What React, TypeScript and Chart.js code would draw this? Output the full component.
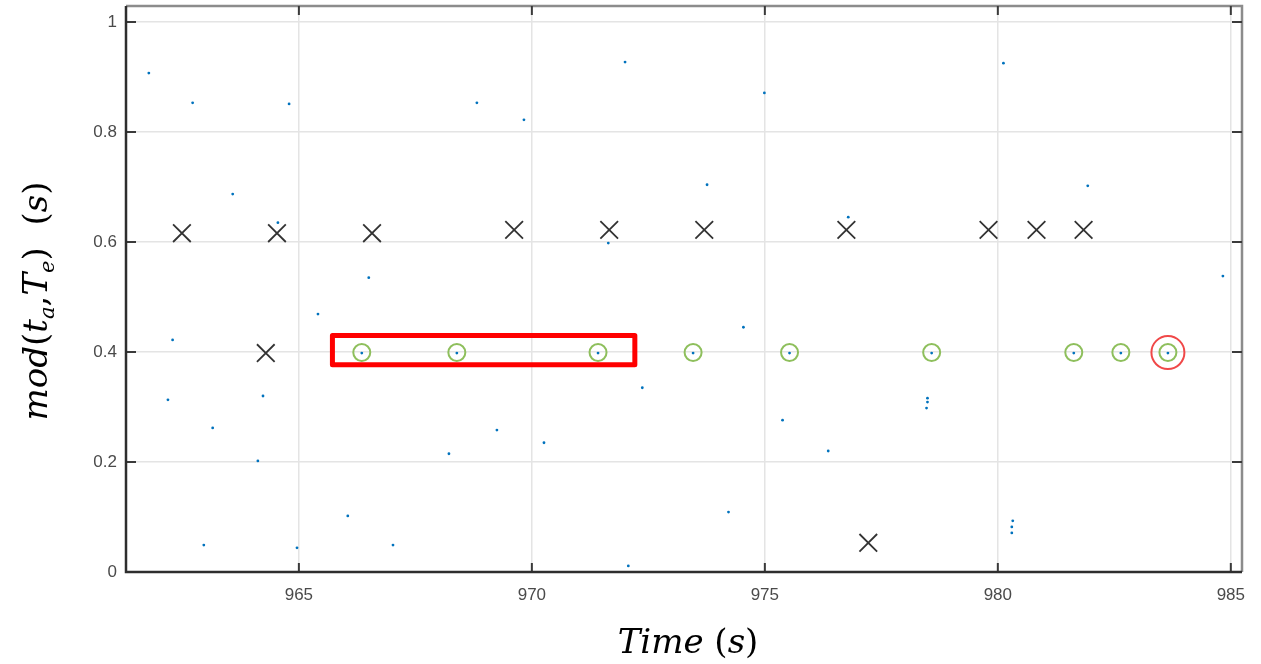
import { useEffect, useRef } from 'react';
import { Chart, registerables } from 'chart.js';

Chart.register(...registerables);

// ---- axis ranges & ticks ----
const X_MIN = 961.29;
const X_MAX = 985.24;
const Y_MIN = 0;
const Y_MAX = 1.029;
const xTicks = [965, 970, 975, 980, 985];
const yTicks = [0, 0.2, 0.4, 0.6, 0.8, 1];
const yTickLabels = ['0', '0.2', '0.4', '0.6', '0.8', '1'];

// ---- blue samples ----
const blueX = [
  961.78, 962.72, 964.79, 963.58, 964.55, 966.5, 965.41, 962.29, 962.19, 964.23,
  963.15, 964.12, 962.96, 964.96, 966.05, 967.02, 968.82, 969.83, 972.0, 971.64,
  969.25, 970.26, 968.22, 972.07, 972.37, 973.76, 974.99, 974.54, 975.38, 974.22,
  976.36, 976.79, 978.49, 978.49, 978.47, 980.12, 981.93, 980.32, 980.3, 980.3,
  984.83,
  966.35, 968.39, 971.42, 973.46, 975.53, 978.58, 981.63, 982.64, 983.65,
];
const blueY = [
  0.907, 0.853, 0.851, 0.687, 0.635, 0.535, 0.469, 0.422, 0.313, 0.32,
  0.262, 0.202, 0.049, 0.044, 0.102, 0.049, 0.853, 0.822, 0.927, 0.598,
  0.258, 0.235, 0.215, 0.011, 0.335, 0.704, 0.871, 0.445, 0.276, 0.109,
  0.22, 0.645, 0.316, 0.309, 0.298, 0.925, 0.702, 0.093, 0.082, 0.071,
  0.538,
  0.398, 0.398, 0.398, 0.398, 0.398, 0.398, 0.398, 0.398, 0.398,
];

// ---- green circled samples ----
const greenX = [966.35, 968.39, 971.42, 973.46, 975.53, 978.58, 981.63, 982.64, 983.65];
const greenY = [0.399, 0.399, 0.399, 0.399, 0.399, 0.399, 0.399, 0.399, 0.399];

// ---- red circled sample ----
const redX = [983.65];
const redY = [0.399];

// ---- black crosses ----
const crossX = [962.49, 964.53, 966.57, 969.62, 971.66, 973.7, 976.75, 979.8, 980.83, 981.84, 964.29, 977.22];
const crossY = [0.616, 0.616, 0.616, 0.622, 0.622, 0.622, 0.622, 0.622, 0.622, 0.622, 0.398, 0.053];

// ---- red highlight rectangle (data units) ----
const rectX = [965.72, 972.21];
const rectY = [0.377, 0.43];

type Seg = { t: string; it: boolean; sub?: boolean };
const yTitle: Seg[] = [
  { t: 'mod', it: true },
  { t: '(', it: false },
  { t: 't', it: true },
  { t: 'a', it: true, sub: true },
  { t: ',', it: false },
  { t: 'T', it: true },
  { t: 'e', it: true, sub: true },
  { t: ')', it: false },
  { t: '  ', it: false },
  { t: '(', it: false },
  { t: 's', it: true },
  { t: ')', it: false },
];
const xTitle: Seg[] = [
  { t: 'Time', it: true },
  { t: ' ', it: false },
  { t: '(', it: false },
  { t: 's', it: true },
  { t: ')', it: false },
];

const toPts = (xs: number[], ys: number[]) => xs.map((x, i) => ({ x, y: ys[i] }));

function drawRich(ctx: CanvasRenderingContext2D, segs: Seg[], size: number, cx: number, by: number) {
  const fontFor = (s: Seg) => `${s.it ? 'italic ' : ''}${s.sub ? size * 0.62 : size}px "DejaVu Serif"`;
  let total = 0;
  const widths = segs.map((s) => {
    ctx.font = fontFor(s);
    const w = ctx.measureText(s.t).width;
    total += w;
    return w;
  });
  let x = cx - total / 2;
  ctx.textBaseline = 'alphabetic';
  ctx.textAlign = 'left';
  segs.forEach((s, i) => {
    ctx.font = fontFor(s);
    ctx.fillText(s.t, x, by + (s.sub ? size * 0.2 : 0));
    x += widths[i];
  });
}

const framePlugin = {
  id: 'frame',
  beforeDatasetsDraw(chart: any) {
    const { ctx, chartArea: a, scales } = chart;
    ctx.save();
    // top & right (light box)
    ctx.strokeStyle = '#8c8c8c';
    ctx.lineWidth = 2.5;
    ctx.beginPath();
    ctx.moveTo(a.left, a.top);
    ctx.lineTo(a.right, a.top);
    ctx.lineTo(a.right, a.bottom);
    ctx.stroke();
    // inward ticks
    ctx.strokeStyle = '#3a3a3a';
    ctx.lineWidth = 2;
    ctx.beginPath();
    xTicks.forEach((v) => {
      const px = scales.x.getPixelForValue(v);
      ctx.moveTo(px, a.bottom);
      ctx.lineTo(px, a.bottom - 9);
      ctx.moveTo(px, a.top);
      ctx.lineTo(px, a.top + 9);
    });
    yTicks.forEach((v) => {
      const py = scales.y.getPixelForValue(v);
      ctx.moveTo(a.left, py);
      ctx.lineTo(a.left + 10, py);
      ctx.moveTo(a.right, py);
      ctx.lineTo(a.right - 10, py);
    });
    ctx.stroke();
    // left & bottom axes
    ctx.strokeStyle = '#2e2e2e';
    ctx.lineWidth = 2.5;
    ctx.beginPath();
    ctx.moveTo(a.left, a.top);
    ctx.lineTo(a.left, a.bottom);
    ctx.lineTo(a.right, a.bottom);
    ctx.stroke();
    ctx.restore();
  },
  afterDatasetsDraw(chart: any) {
    const { ctx, scales } = chart;
    const x0 = scales.x.getPixelForValue(rectX[0]);
    const x1 = scales.x.getPixelForValue(rectX[1]);
    const y0 = scales.y.getPixelForValue(rectY[1]);
    const y1 = scales.y.getPixelForValue(rectY[0]);
    ctx.save();
    ctx.strokeStyle = '#ff0000';
    ctx.lineWidth = 5;
    ctx.lineJoin = 'round';
    ctx.strokeRect(x0, y0, x1 - x0, y1 - y0);
    ctx.restore();
  },
  afterDraw(chart: any) {
    const { ctx, chartArea: a } = chart;
    ctx.save();
    ctx.fillStyle = '#000';
    drawRich(ctx, xTitle, 34, (a.left + a.right) / 2 + 4, 653);
    ctx.translate(47, 301);
    ctx.rotate(-Math.PI / 2);
    drawRich(ctx, yTitle, 34, 0, 0);
    ctx.restore();
  },
};

export default function App() {
  const ref = useRef<HTMLCanvasElement>(null);
  useEffect(() => {
    if (!ref.current) return;
    const family = '"Liberation Sans", Arial, sans-serif';
    const chart = new Chart(ref.current, {
      type: 'scatter',
      data: {
        datasets: [
          {
            data: toPts(blueX, blueY),
            pointStyle: 'circle',
            pointRadius: 1.4,
            backgroundColor: '#0072BD',
            borderColor: '#0072BD',
            borderWidth: 0,
          },
          {
            data: toPts(greenX, greenY),
            pointStyle: 'circle',
            pointRadius: 8.5,
            backgroundColor: 'rgba(0,0,0,0)',
            borderColor: '#8ebf5c',
            borderWidth: 2,
          },
          {
            data: toPts(redX, redY),
            pointStyle: 'circle',
            pointRadius: 16.5,
            backgroundColor: 'rgba(0,0,0,0)',
            borderColor: '#f04848',
            borderWidth: 2,
          },
          {
            data: toPts(crossX, crossY),
            pointStyle: 'crossRot',
            pointRadius: 12.5,
            backgroundColor: '#333',
            borderColor: '#333',
            borderWidth: 1.8,
          },
        ],
      },
      options: {
        animation: false,
        responsive: false,
        devicePixelRatio: 1,
        layout: { autoPadding: false, padding: { left: 0, right: 19, top: 6, bottom: 0 } },
        plugins: { legend: { display: false }, tooltip: { enabled: false } },
        scales: {
          x: {
            type: 'linear',
            min: X_MIN,
            max: X_MAX,
            afterBuildTicks: (s: any) => {
              s.ticks = xTicks.map((v) => ({ value: v }));
            },
            afterFit: (s: any) => {
              s.height = 92;
            },
            grid: { color: '#e4e4e4', lineWidth: 1.5, drawTicks: false, tickLength: 0 },
            border: { display: false },
            ticks: {
              font: { family, size: 17 },
              color: '#4a4a4a',
              padding: 13,
              maxRotation: 0,
              autoSkip: false,
              callback: (v: any) => String(v),
            },
          },
          y: {
            type: 'linear',
            min: Y_MIN,
            max: Y_MAX,
            afterBuildTicks: (s: any) => {
              s.ticks = yTicks.map((v) => ({ value: v }));
            },
            afterFit: (s: any) => {
              s.width = 126;
            },
            grid: {
              color: '#e4e4e4',
              lineWidth: 1.5,
              drawTicks: true,
              tickLength: 9,
              tickColor: 'rgba(0,0,0,0)',
            },
            border: { display: false },
            ticks: {
              font: { family, size: 17, lineHeight: 0.6 },
              color: '#4a4a4a',
              padding: 0,
              autoSkip: false,
              callback: (v: any) => {
                const i = yTicks.indexOf(v);
                return i >= 0 ? yTickLabels[i] : String(v);
              },
            },
          },
        },
      },
      plugins: [framePlugin],
    } as any);
    return () => chart.destroy();
  }, []);
  return (
    <canvas
      ref={ref}
      width={1261}
      height={664}
      style={{ position: 'fixed', left: 0, top: 0, width: 1261, height: 664, background: '#fff' }}
    />
  );
}
